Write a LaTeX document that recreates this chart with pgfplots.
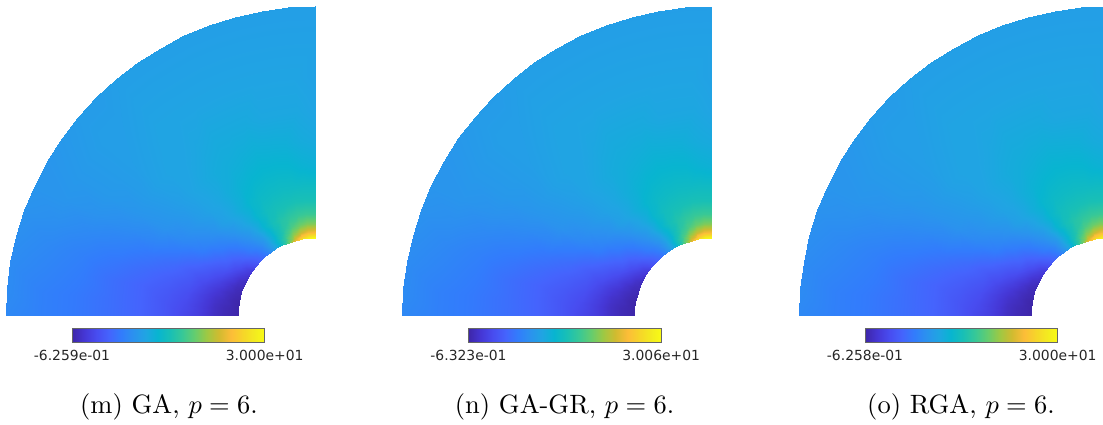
\documentclass[border=0pt]{standalone}
\usepackage{fontspec}
\usepackage{pgfplots}
\usepackage{pgfplotstable}
\pgfplotsset{compat=1.18}
\newfontfamily\barfont{DejaVu Sans}
\pgfplotsset{colormap={parula}{
 rgb(0cm)=(.2422,.1504,.6603) rgb(4cm)=(.2706,.2147,.8364) rgb(8cm)=(.2813,.3006,.9414)
 rgb(12cm)=(.2699,.3892,.9906) rgb(16cm)=(.1963,.4847,.9892) rgb(20cm)=(.1687,.5703,.9359)
 rgb(24cm)=(.1248,.6459,.8883) rgb(28cm)=(.0297,.7082,.8163) rgb(32cm)=(.0964,.7500,.7120)
 rgb(36cm)=(.2161,.7843,.5923) rgb(40cm)=(.3909,.8029,.4354) rgb(44cm)=(.6181,.7858,.2651)
 rgb(48cm)=(.8185,.7327,.1882) rgb(52cm)=(.9900,.7400,.2200) rgb(56cm)=(.9640,.8400,.1600)
 rgb(60cm)=(.9530,.9300,.1200) rgb(63cm)=(.9769,.9839,.0805)}}
\pgfplotstableread[row sep=\\]{
r t v\\
77.8 0 30\\77.8 5 29.3\\77.8 10 27.5\\77.8 15 24\\77.8 20 19\\77.8 25 14.5\\77.8 30 11\\77.8 35 8.6\\77.8 40 6.4\\77.8 45 4.9\\77.8 50 3.4\\77.8 55 1.8\\77.8 60 .9\\77.8 65 .3\\77.8 70 0\\77.8 75 -.3\\77.8 80 -.6\\77.8 85 -.6\\77.8 90 -.6\\
84 0 24.5\\84 5 24\\84 10 22.7\\84 15 20.6\\84 20 17.6\\84 25 14.6\\84 30 11.6\\84 35 9.2\\84 40 7.3\\84 45 5.8\\84 50 4.3\\84 55 2.7\\84 60 1.8\\84 65 .9\\84 70 .3\\84 75 0\\84 80 -.3\\84 85 -.3\\84 90 -.3\\
92 0 20\\92 5 19.8\\92 10 19\\92 15 17.7\\92 20 16\\92 25 14.2\\92 30 12\\92 35 9.8\\92 40 8.3\\92 45 7\\92 50 5.5\\92 55 4.3\\92 60 3\\92 65 2.1\\92 70 1.2\\92 75 .6\\92 80 .3\\92 85 0\\92 90 0\\
102 0 17\\102 5 17\\102 10 16.8\\102 15 16.3\\102 20 15.6\\102 25 14.6\\102 30 13\\102 35 10.9\\102 40 9.2\\102 45 8\\102 50 6.7\\102 55 5.5\\102 60 4.6\\102 65 3.4\\102 70 2.4\\102 75 1.5\\102 80 .9\\102 85 .6\\102 90 .6\\
115 0 15\\115 5 15\\115 10 15\\115 15 14.9\\115 20 14.7\\115 25 14.3\\115 30 13.3\\115 35 11.6\\115 40 10.4\\115 45 9.2\\115 50 8\\115 55 7\\115 60 5.8\\115 65 4.6\\115 70 3.7\\115 75 2.7\\115 80 2.1\\115 85 1.8\\115 90 1.8\\
130 0 14\\130 5 14\\130 10 14\\130 15 14\\130 20 13.9\\130 25 13.7\\130 30 13.2\\130 35 12.2\\130 40 11.2\\130 45 10.4\\130 50 9.2\\130 55 8.3\\130 60 7.3\\130 65 5.8\\130 70 4.6\\130 75 4\\130 80 3.4\\130 85 3\\130 90 2.7\\
150 0 12.5\\150 5 12.7\\150 10 13.1\\150 15 13.2\\150 20 13.2\\150 25 13\\150 30 12.6\\150 35 12\\150 40 11.3\\150 45 10.8\\150 50 10.1\\150 55 9.2\\150 60 8.3\\150 65 7\\150 70 5.8\\150 75 4.9\\150 80 4.3\\150 85 4\\150 90 4\\
175 0 11.6\\175 5 11.8\\175 10 12.2\\175 15 12.3\\175 20 12.4\\175 25 12.2\\175 30 12\\175 35 11.8\\175 40 11.4\\175 45 11\\175 50 10.4\\175 55 9.8\\175 60 9.2\\175 65 8\\175 70 6.7\\175 75 5.8\\175 80 5.2\\175 85 5.2\\175 90 5.2\\
205 0 11\\205 5 11.3\\205 10 11.3\\205 15 11.3\\205 20 11.6\\205 25 11.6\\205 30 11.6\\205 35 11.3\\205 40 11\\205 45 11\\205 50 10.7\\205 55 10.1\\205 60 9.5\\205 65 8.6\\205 70 7.6\\205 75 6.7\\205 80 6.1\\205 85 6.1\\205 90 6.1\\
240 0 10.7\\240 5 11\\240 10 11\\240 15 11\\240 20 11\\240 25 11\\240 30 11\\240 35 11\\240 40 11\\240 45 10.7\\240 50 10.4\\240 55 10.1\\240 60 9.8\\240 65 9.2\\240 70 8.3\\240 75 7.6\\240 80 7.3\\240 85 7\\240 90 7\\
275 0 10.7\\275 5 10.7\\275 10 10.7\\275 15 10.7\\275 20 10.7\\275 25 10.7\\275 30 10.7\\275 35 10.7\\275 40 10.7\\275 45 10.4\\275 50 10.4\\275 55 10.1\\275 60 9.8\\275 65 9.5\\275 70 8.9\\275 75 8.3\\275 80 8\\275 85 7.6\\275 90 7.6\\
309.5 0 10.4\\309.5 5 10.4\\309.5 10 10.4\\309.5 15 10.4\\309.5 20 10.4\\309.5 25 10.4\\309.5 30 10.4\\309.5 35 10.4\\309.5 40 10.4\\309.5 45 10.1\\309.5 50 10.1\\309.5 55 9.8\\309.5 60 9.5\\309.5 65 9.5\\309.5 70 9.2\\309.5 75 8.9\\309.5 80 8.6\\309.5 85 8.6\\309.5 90 8.3\\
}\fielddata
\pgfplotsset{panel/.style n args={3}{
 scale only axis, x=1pt, y=1pt, xmin=-309.5, xmax=0, ymin=0, ymax=309.5, hide axis,
 anchor=south west, colormap name=parula,
 point meta min=#1, point meta max=#2,
 colorbar horizontal,
 colorbar style={at={(0.5252,-0.0406)}, anchor=north, width=192.7pt, height=14.4pt, scale only axis,
   xtick={#1,#2}, xticklabels={#3}, major tick length=0pt, xtick style={draw=none},
   axis line style={draw=black!60,line width=.5pt},
   xticklabel style={font=\barfont\fontsize{13.9}{13.9}\selectfont, text=black!85, yshift=-4.5pt, text height=10pt}},
}}
\newcommand\field{\addplot[surf,shader=interp,mesh/cols=19,mesh/rows=12,point meta=\thisrow{v}]
   table[x expr=-\thisrow{r}*sin(\thisrow{t}), y expr=\thisrow{r}*cos(\thisrow{t})]{\fielddata};}
\begin{document}
\begin{tikzpicture}[x=1pt,y=1pt]
\path[use as bounding box] (0,0) rectangle (1103,424);
\begin{axis}[panel={-0.6259}{30}{{-6.259e-01},{3.000e+01}}, at={(5.8pt,108.3pt)}]\field\end{axis}
\begin{axis}[panel={-0.6323}{30.06}{{-6.323e-01},{3.006e+01}}, at={(402.3pt,108.3pt)}]\field\end{axis}
\begin{axis}[panel={-0.6258}{30}{{-6.258e-01},{3.000e+01}}, at={(798.8pt,108.3pt)}]\field\end{axis}
\node[anchor=base,scale=2.65] at (169,11) {(m) GA, $p=6$.};
\node[anchor=base,scale=2.65] at (564.5,11) {(n) GA-GR, $p=6$.};
\node[anchor=base,scale=2.65] at (961,11) {(o) RGA, $p=6$.};
\end{tikzpicture}
\end{document}
